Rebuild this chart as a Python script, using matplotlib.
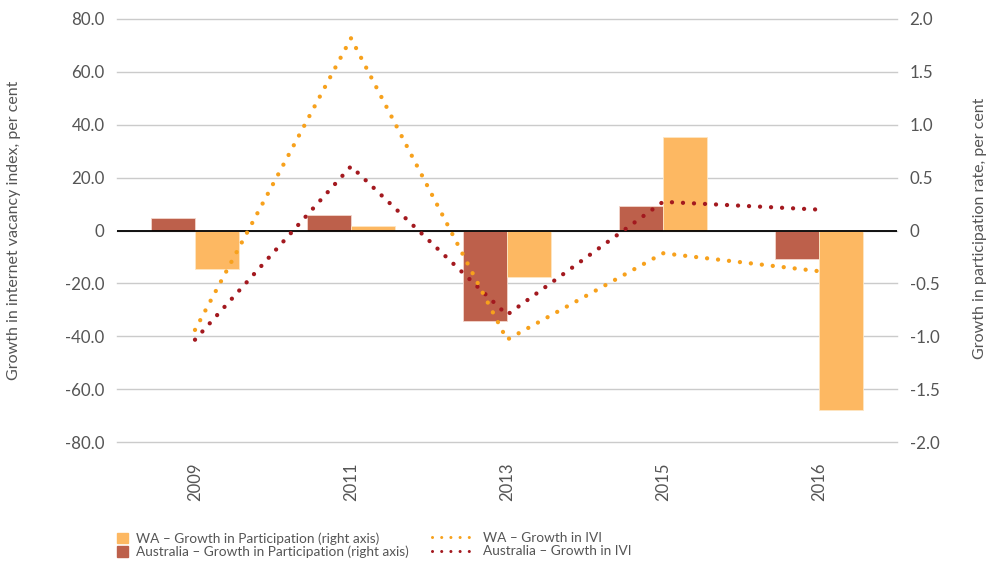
import matplotlib
matplotlib.use('Agg')
import matplotlib.pyplot as plt
import numpy as np
from matplotlib.patches import Patch, Rectangle
from matplotlib.lines import Line2D
from matplotlib.legend_handler import HandlerPatch

plt.rcParams['font.family'] = ['Lato', 'DejaVu Sans']

# data
years = ['2009', '2011', '2013', '2015', '2016']
wa_part = [-0.36, 0.044, -0.435, 0.886, -1.70]        # right axis
aus_part = [0.12, 0.142, -0.86, 0.236, -0.265]        # right axis
wa_ivi = [-37.6, 72.7, -41.3, -8.6, -15.4]            # left axis
aus_ivi = [-41.3, 24.3, -31.9, 10.85, 7.9]            # left axis

left_ticks = [80, 60, 40, 20, 0, -20, -40, -60, -80]
left_labels = ['80.0', '60.0', '40.0', '20.0', '0', '-20.0', '-40.0', '-60.0', '-80.0']
right_ticks = [2.0, 1.5, 1.0, 0.5, 0, -0.5, -1.0, -1.5, -2.0]
right_labels = ['2.0', '1.5', '1.0', '0.5', '0', '-0.5', '-1.0', '-1.5', '-2.0']

c_wa_bar = '#fdb862'
c_aus_bar = '#bd604b'
c_wa_line = '#f7a11c'
c_aus_line = '#a3191f'
txt = '#555555'

fig = plt.figure(figsize=(9.89, 5.62), dpi=100)
ax = fig.add_axes([0.1183, 0.2135, 0.7887, 0.7527])
ax2 = ax.twinx()
# lines go on top of the bars
ax.set_zorder(ax2.get_zorder() + 1)
ax.patch.set_visible(False)

x = np.arange(len(years))
w = 0.285
ax2.bar(x - w / 2, aus_part, w, color=c_aus_bar, edgecolor='#f3d6cc', linewidth=0.6, zorder=2)
ax2.bar(x + w / 2, wa_part, w, color=c_wa_bar, edgecolor='#fde6c4', linewidth=0.6, zorder=2)
ax2.set_ylim(-2.0, 2.0)
ax2.set_yticks(right_ticks)
ax2.set_yticklabels(right_labels)
ax2.set_axisbelow(True)
ax2.grid(axis='y', color='#cbcbcb', linewidth=1.0)
for gl in ax2.get_ygridlines():
    gl.set_clip_on(False)

dots = (0, (0.01, 2.55))
ax.plot(x, aus_ivi, color=c_aus_line, linewidth=3.1, linestyle=dots,
        dash_capstyle='round', zorder=4)
ax.plot(x, wa_ivi, color=c_wa_line, linewidth=3.1, linestyle=dots,
        dash_capstyle='round', zorder=5)
ax.axhline(0, color='black', linewidth=1.3, zorder=3)
ax.set_ylim(-80, 80)
ax.set_yticks(left_ticks)
ax.set_yticklabels(left_labels)
ax.set_xlim(-0.5, len(years) - 0.5)
ax.set_xticks(x)
ax.set_xticklabels(years, rotation=90)

for a in (ax, ax2):
    for s in a.spines.values():
        s.set_visible(False)
ax.tick_params(axis='y', length=0, pad=9, labelsize=12.2, labelcolor=txt)
ax2.tick_params(axis='y', length=0, pad=9, labelsize=12.2, labelcolor=txt)
ax.tick_params(axis='x', length=0, pad=15, labelsize=12, labelcolor=txt)

fig.text(14 / 989, 1 - 230 / 562, 'Growth in internet vacancy index, per cent',
         rotation=90, ha='center', va='center', fontsize=11.5, color=txt)
fig.text(980 / 989, 1 - 228 / 562, 'Growth in participation rate, per cent',
         rotation=90, ha='center', va='center', fontsize=11.5, color=txt)


def square_patch(legend, orig_handle, xdescent, ydescent, width, height, fontsize):
    side = 10.5 * 72 / fig.dpi
    return Rectangle((-xdescent, -ydescent + (height - side) / 2), side, side)


fs = 9.8
bar_handles = [Patch(color=c_wa_bar), Patch(color=c_aus_bar)]
bar_names = ['WA \u2013 Growth in Participation (right axis)',
             'Australia \u2013 Growth in Participation (right axis)']
leg1 = fig.legend(bar_handles, bar_names, loc='upper left',
                  bbox_to_anchor=(117 / 989, 1 - 532 / 562), frameon=False,
                  fontsize=fs, handlelength=0.77, handletextpad=0.6,
                  labelspacing=0.1, borderpad=0, borderaxespad=0,
                  handler_map={Patch: HandlerPatch(patch_func=square_patch)})
for t in leg1.get_texts():
    t.set_color(txt)

leg_dots = (0, (0.01, 3.0))
line_handles = [Line2D([], [], color=c_wa_line, linewidth=2.2, linestyle=leg_dots, dash_capstyle='round'),
                Line2D([], [], color=c_aus_line, linewidth=2.2, linestyle=leg_dots, dash_capstyle='round')]
line_names = ['WA \u2013 Growth in IVI', 'Australia \u2013 Growth in IVI']
leg2 = fig.legend(line_handles, line_names, loc='upper left',
                  bbox_to_anchor=(432 / 989, 1 - 532 / 562), frameon=False,
                  fontsize=fs, handlelength=3.1, handletextpad=0.65,
                  labelspacing=0.1, borderpad=0, borderaxespad=0)
for t in leg2.get_texts():
    t.set_color(txt)

fig.savefig('out.png', dpi=100)
